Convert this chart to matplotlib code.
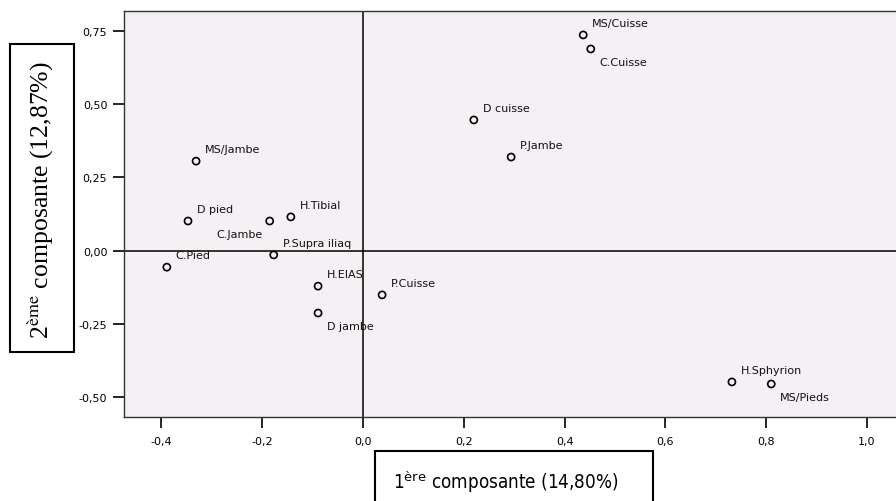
import matplotlib
matplotlib.use('Agg')
import matplotlib.pyplot as plt
from matplotlib.patches import Rectangle

# coordonnées des variables sur les deux premières composantes
labels = ['MS/Cuisse', 'C.Cuisse', 'D cuisse', 'P.Jambe', 'MS/Jambe',
          'D pied', 'C.Jambe', 'H.Tibial', 'P.Supra iliaq', 'C.Pied',
          'H.EIAS', 'P.Cuisse', 'D jambe', 'H.Sphyrion', 'MS/Pieds']
comp1 = [0.437, 0.452, 0.220, 0.294, -0.331,
         -0.347, -0.185, -0.143, -0.177, -0.389,
         -0.089, 0.038, -0.089, 0.732, 0.810]
comp2 = [0.738, 0.690, 0.447, 0.320, 0.306,
         0.101, 0.101, 0.115, -0.015, -0.057,
         -0.122, -0.152, -0.214, -0.450, -0.457]

xticks = [-0.4, -0.2, 0.0, 0.2, 0.4, 0.6, 0.8, 1.0]
yticks = [-0.50, -0.25, 0.00, 0.25, 0.50, 0.75]

below = {'C.Cuisse', 'D jambe', 'MS/Pieds'}
below_left = {'C.Jambe'}

W, H = 896, 502
fig = plt.figure(figsize=(W / 100, H / 100), dpi=100)
ax = fig.add_axes([124 / W, (H - 418) / H, (W - 124) / W, (418 - 12) / H])
ax.set_facecolor('#f4f0f4')

ax.axhline(0, color='black', lw=1.1, zorder=1)
ax.axvline(0, color='black', lw=1.1, zorder=1)

ax.scatter(comp1, comp2, s=26, facecolors='none', edgecolors='black',
           linewidths=1.2, zorder=3)

for name, x, y in zip(labels, comp1, comp2):
    if name in below:
        off, ha = (9, -13), 'left'
    elif name in below_left:
        off, ha = (-7, -13), 'right'
    else:
        off, ha = (9, 12), 'left'
    ax.annotate(name, (x, y), xytext=off, textcoords='offset pixels',
                ha=ha, va='center', fontsize=8, color='#111111')

ax.set_xlim(-0.474, 1.0575)
ax.set_ylim(-0.570, 0.820)
ax.set_xticks(xticks)
ax.set_xticklabels([('%.1f' % v).replace('.', ',') for v in xticks])
ax.set_yticks(yticks)
ax.set_yticklabels([('%.2f' % v).replace('.', ',') for v in yticks])
ax.tick_params(axis='both', labelsize=8, length=8, width=1.2, direction='out')
ax.tick_params(axis='x', pad=6)
ax.tick_params(axis='y', pad=4)

for side in ['left', 'top', 'bottom']:
    ax.spines[side].set_color('#333333')
    ax.spines[side].set_linewidth(1.0)
ax.spines['right'].set_visible(False)

# titres des axes dans des cadres
fig.patches.append(Rectangle((10 / W, 1 - 353 / H), 64 / W, 308 / H,
                             transform=fig.transFigure, fill=True, fc='white',
                             ec='black', lw=1.5))
fig.text(41 / W, 1 - 200 / H, r'2$^{\mathrm{ème}}$ composante (12,87%)',
         rotation=90, ha='center', va='center', fontsize=18.5,
         family=['Liberation Serif', 'DejaVu Serif'], math_fontfamily='stix')

fig.patches.append(Rectangle((375 / W, -0.05), 278 / W, (H - 452) / H + 0.05,
                             transform=fig.transFigure, fill=True, fc='white',
                             ec='black', lw=1.5))
fig.text(506 / W, 1 - 482 / H, r'1$^{\mathrm{ère}}$ composante (14,80%)',
         ha='center', va='center', fontsize=13.5, fontstretch='condensed',
         family=['DejaVu Sans'], math_fontfamily='dejavusans')

fig.savefig('out.png', dpi=100)
